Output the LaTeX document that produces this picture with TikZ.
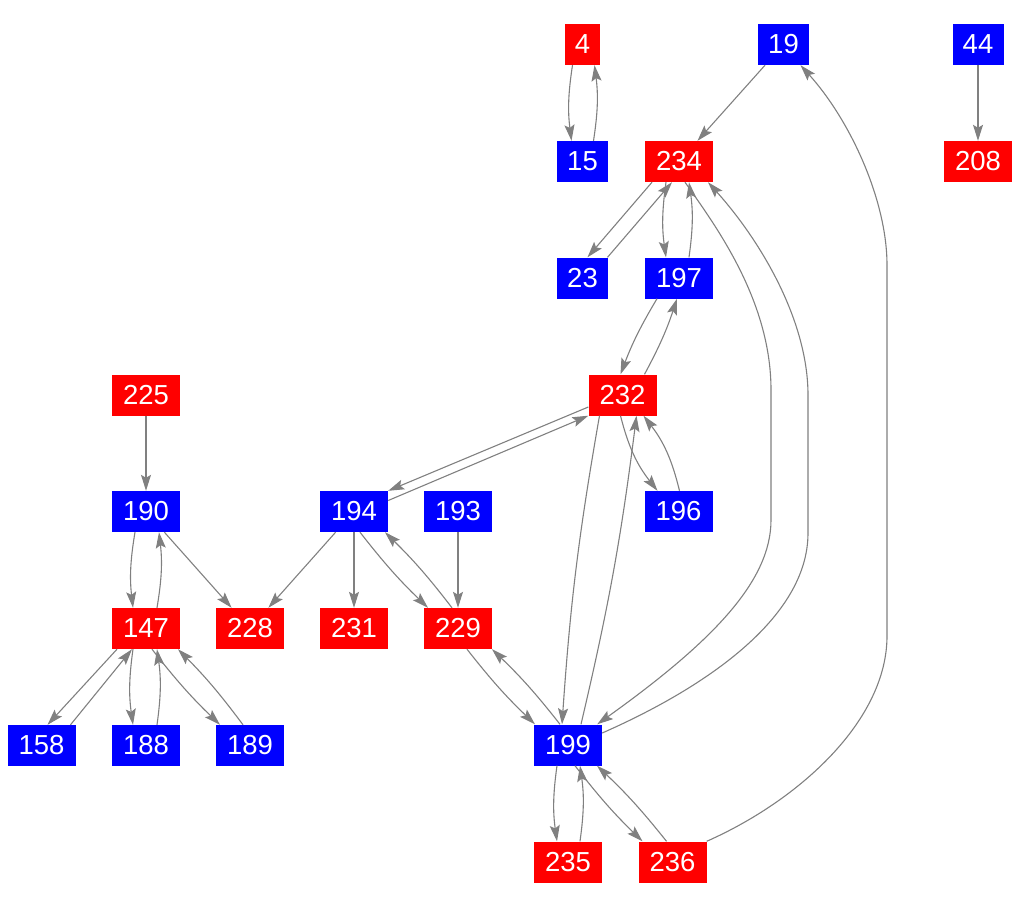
\documentclass[tikz,border=0pt]{standalone}
\usepackage{fontspec}
\setmainfont{Liberation Sans}
\usetikzlibrary{arrows.meta}
\begin{document}
\begin{tikzpicture}[x=1pt,y=-1pt,
  vbox/.style={rectangle, inner sep=0pt, minimum height=41pt, text=white, font=\fontsize{27.5}{27.5}\selectfont},
  rn/.style={vbox, fill=red},
  bn/.style={vbox, fill=blue},
  wa/.style={minimum width=35pt},
  wb/.style={minimum width=51pt},
  wc/.style={minimum width=68pt},
  e/.style={draw=gray, line width=1.1pt, -{Stealth[length=16pt,width=10pt,inset=3pt]}}
]
\useasboundingbox (0,0) rectangle (1021,908);
% nodes
\node[rn,wa] (n4)   at (582.5,44.5) {4};
\node[bn,wb] (n19)  at (783.5,44.5) {19};
\node[bn,wb] (n44)  at (978,44.5) {44};
\node[bn,wb] (n15)  at (582.5,161.5) {15};
\node[rn,wc] (n234) at (679,161.5) {234};
\node[rn,wc] (n208) at (978,161.5) {208};
\node[bn,wb] (n23)  at (582.5,278) {23};
\node[bn,wc] (n197) at (679,278) {197};
\node[rn,wc] (n225) at (146,395) {225};
\node[rn,wc] (n232) at (622.5,395) {232};
\node[bn,wc] (n190) at (146,511.5) {190};
\node[bn,wc] (n194) at (354,511.5) {194};
\node[bn,wc] (n193) at (458,511.5) {193};
\node[bn,wc] (n196) at (678.5,511.5) {196};
\node[rn,wc] (n147) at (146,628.5) {147};
\node[rn,wc] (n228) at (250,628.5) {228};
\node[rn,wc] (n231) at (354,628.5) {231};
\node[rn,wc] (n229) at (458,628.5) {229};
\node[bn,wc] (n158) at (41.5,745.5) {158};
\node[bn,wc] (n188) at (146,745.5) {188};
\node[bn,wc] (n189) at (250,745.5) {189};
\node[bn,wc] (n199) at (568,745) {199};
\node[rn,wc] (n235) at (568,862) {235};
\node[rn,wc] (n236) at (672.5,862) {236};
% edges
\draw[e] ([xshift=-10]n4.south) to[bend right=8] ([xshift=-11]n15.north);
\draw[e] ([xshift=11]n15.north) to[bend right=8] ([xshift=12]n4.south);
\draw[e] (n19) -- (n234);
\draw[e] (n44) -- (n208);
\draw[e] ([xshift=-27]n234.south) -- ([xshift=5]n23.north);
\draw[e] ([xshift=25]n23.north) -- ([xshift=-7]n234.south);
\draw[e] ([xshift=-13]n234.south) to[bend right=8] ([xshift=-13]n197.north);
\draw[e] ([xshift=10]n197.north) to[bend right=8] ([xshift=10]n234.south);
\draw[e] ([xshift=-22]n197.south) to[bend right=5] ([xshift=-2]n232.north);
\draw[e] ([xshift=22]n232.north) to[bend right=5] ([xshift=-2]n197.south);
\draw[e] ([yshift=-12]n232.west) -- (n194.north east);
\draw[e] ([yshift=11]n194.east) -- (n232.south west);
\draw[e] ([xshift=-2]n232.south) to[bend right=12] ([xshift=-21]n196.north);
\draw[e] ([xshift=1]n196.north) to[bend right=12] ([xshift=21]n232.south);
\draw[e] ([xshift=-23]n232.south) to[bend right=3] ([xshift=-6]n199.north);
\draw[e] ([xshift=13]n199.north) to[bend right=3] ([xshift=14]n232.south);
\draw[e] ([xshift=6]n234.south) .. controls (715,225) and (771,300) .. (771,390)
   -- (771,520) .. controls (771,580) and (715,640) .. ([xshift=-5]n199.north east);
\draw[e] ([yshift=12]n199.east) .. controls (700,690) and (808,620) .. (808,533)
   -- (808,395) .. controls (808,320) and (760,240) .. ([xshift=29]n234.south);
\draw[e] (n236.north east) .. controls (800,800) and (887,720) .. (887,636)
   -- (887,265) .. controls (887,200) and (850,120) .. ([xshift=17]n19.south);
\draw[e] (n225) -- (n190);
\draw[e] ([xshift=-11]n190.south) to[bend right=8] ([xshift=-13]n147.north);
\draw[e] ([xshift=11]n147.north) to[bend right=8] ([xshift=13]n190.south);
\draw[e] (n190) -- (n228);
\draw[e] (n194) -- (n228);
\draw[e] (n194) -- (n231);
\draw[e] ([xshift=6]n194.south) to[bend right=4] ([xshift=-30]n229.north);
\draw[e] ([xshift=-6]n229.north) to[bend right=4] ([xshift=31]n194.south);
\draw[e] (n193) -- (n229);
\draw[e] ([xshift=9]n229.south) to[bend right=4] ([xshift=-33]n199.north);
\draw[e] ([xshift=-8]n199.north) to[bend right=4] ([xshift=34]n229.south);
\draw[e] ([xshift=-29]n147.south) -- ([xshift=6]n158.north);
\draw[e] ([xshift=29]n158.north) -- ([xshift=-14]n147.south);
\draw[e] ([xshift=-13]n147.south) to[bend right=8] ([xshift=-13]n188.north);
\draw[e] ([xshift=11]n188.north) to[bend right=8] ([xshift=11]n147.south);
\draw[e] ([xshift=6]n147.south) to[bend right=4] ([xshift=-30]n189.north);
\draw[e] ([xshift=-7]n189.north) to[bend right=4] ([xshift=32]n147.south);
\draw[e] ([xshift=-11]n199.south) to[bend right=8] ([xshift=-11]n235.north);
\draw[e] ([xshift=12]n235.north) to[bend right=8] ([xshift=12]n199.south);
\draw[e] ([xshift=7]n199.south) to[bend right=4] ([xshift=-30]n236.north);
\draw[e] ([xshift=-6]n236.north) to[bend right=4] ([xshift=29]n199.south);
\end{tikzpicture}
\end{document}
